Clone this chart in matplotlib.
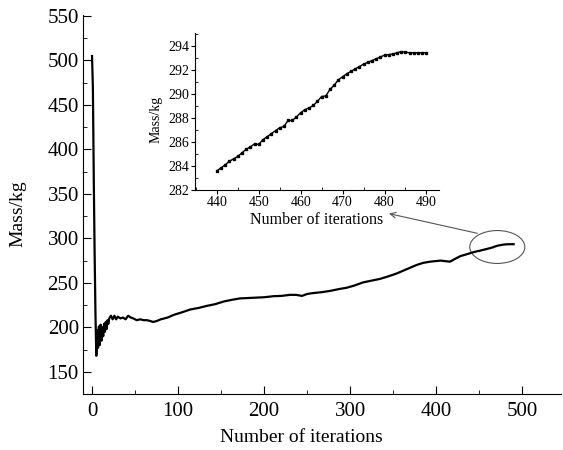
import matplotlib
matplotlib.use('Agg')
import matplotlib.pyplot as plt
from matplotlib.patches import Ellipse
from matplotlib.ticker import MultipleLocator

plt.rcParams['font.family'] = ['Liberation Serif', 'DejaVu Serif']

# main run (coarse sampling before 440)
iters_main = [0, 1, 2, 3, 4, 5, 6, 7, 8, 9, 10, 11, 12, 13, 14, 15, 16, 17, 18, 19, 20,
              22, 24, 26, 28, 30, 33, 36, 39, 42, 45, 48, 52, 56, 60, 64, 68, 71, 75,
              80, 88, 95, 105, 114, 125, 133, 143, 153, 163, 172, 182, 192, 200, 211,
              220, 230, 237, 244, 250, 257, 267, 277, 287, 296, 305, 315, 325, 335,
              345, 354, 365, 377, 385, 393, 400, 405, 410, 416, 422, 428, 435]
mass_main = [505, 470, 370, 285, 215, 168, 197, 177, 201, 180, 203, 185, 200, 190, 204,
             195, 206, 198, 208, 204, 210,
             213, 209, 213, 209, 212, 210, 211, 209, 213, 211, 210, 208, 209, 208, 208,
             207, 206, 207,
             209, 211, 214, 217, 220, 222, 224, 226, 229, 231, 232.5, 233, 233.5, 233.8,
             235, 235.3, 236.5, 236.5, 235.3, 237.5, 238.5, 239.5, 241, 243, 244.5, 247,
             250.5, 252.5, 254.5, 257.5, 260.5, 265, 270, 272.5, 273.8, 274.5, 275, 274.5,
             273.8, 277, 280, 282]

# zoomed-in tail (inset)
iters_tail = list(range(440, 491))
mass_tail = [283.6, 283.85, 284.1, 284.4, 284.6, 284.8, 285.1, 285.4, 285.6, 285.85,
             285.8, 286.2, 286.45, 286.7, 286.95, 287.2, 287.3, 287.8, 287.8, 288.1,
             288.45, 288.7, 288.85, 289.05, 289.4, 289.8, 289.85, 290.4, 290.75, 291.2,
             291.45, 291.7, 291.9, 292.1, 292.3, 292.5, 292.65, 292.8, 292.95, 293.1,
             293.25, 293.3, 293.35, 293.45, 293.55, 293.5, 293.45, 293.45, 293.45, 293.45,
             293.45]

fig = plt.figure(figsize=(5.63, 4.5), dpi=100)
ax = fig.add_axes([0.1474, 0.1244, 0.849, 0.842])
ax.plot(iters_main + iters_tail, mass_main + mass_tail, color='black', lw=1.6)
ax.set_xlim(-10.5, 545)
ax.set_ylim(125, 551)
ax.spines['top'].set_visible(False)
ax.spines['right'].set_visible(False)
ax.xaxis.set_major_locator(MultipleLocator(100))
ax.xaxis.set_minor_locator(MultipleLocator(50))
ax.yaxis.set_major_locator(MultipleLocator(50))
ax.yaxis.set_minor_locator(MultipleLocator(25))
ax.tick_params(which='both', direction='in', labelsize=15)
ax.tick_params(which='major', length=6)
ax.tick_params(which='minor', length=3)
ax.tick_params(axis='x', pad=6)
ax.tick_params(axis='y', pad=3)
ax.set_yticks(range(150, 551, 50))
ax.set_xlabel('Number of iterations', fontsize=14)
ax.set_ylabel('Mass/kg', fontsize=14)
ax.xaxis.set_label_coords(0.456, -0.092)
ax.yaxis.set_label_coords(-0.119, 0.475)

# ellipse round the tail and arrow to the inset
ax.add_patch(Ellipse((471, 290.3), 64, 37, fill=False, edgecolor='#555555', lw=0.8))
ax.annotate('', xy=(342, 328.5), xytext=(451, 305),
            arrowprops=dict(arrowstyle='->', color='#555555', lw=0.8))

ins = fig.add_axes([0.3464, 0.5778, 0.4334, 0.3489])
ins.plot(iters_tail, mass_tail, color='black', lw=1.0, marker='s', ms=2)
ins.set_xlim(434.8, 493)
ins.set_ylim(282, 295.1)
ins.spines['top'].set_visible(False)
ins.spines['right'].set_visible(False)
ins.xaxis.set_major_locator(MultipleLocator(10))
ins.xaxis.set_minor_locator(MultipleLocator(5))
ins.yaxis.set_major_locator(MultipleLocator(2))
ins.yaxis.set_minor_locator(MultipleLocator(1))
ins.tick_params(which='major', direction='out', length=3, labelsize=10, pad=1)
ins.tick_params(which='minor', direction='in', length=2)
ins.set_xlabel('Number of iterations', fontsize=11.5)
ins.set_ylabel('Mass/kg', fontsize=10)
ins.xaxis.set_label_coords(0.5, -0.142)
ins.yaxis.set_label_coords(-0.133, 0.45)
ins.patch.set_alpha(0)

fig.savefig('out.png', dpi=100)
